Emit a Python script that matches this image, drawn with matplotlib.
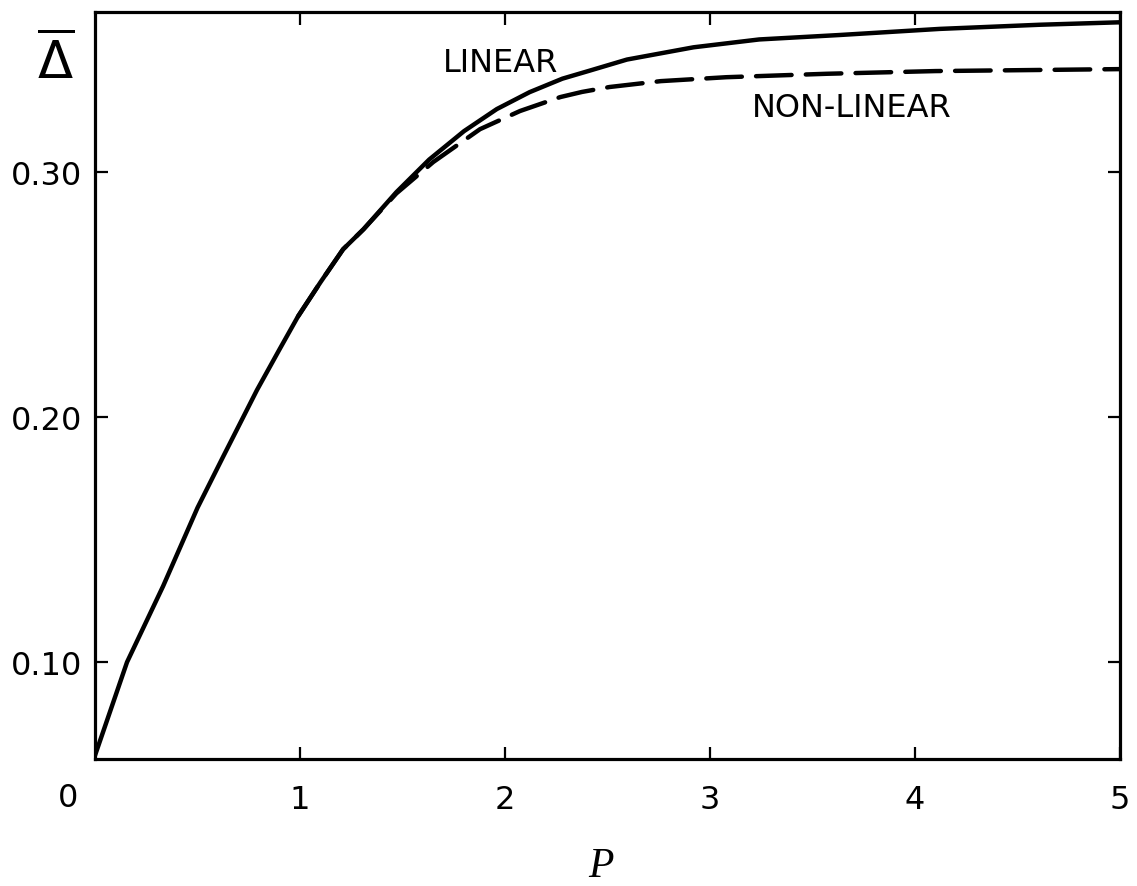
import matplotlib
matplotlib.use("Agg")
import matplotlib.pyplot as plt
import matplotlib.transforms as mtransforms

# mean gap vs. P, linear and non-linear theory
p_linear = [0.0, 0.156, 0.332, 0.50, 0.626, 0.79, 0.90, 0.99, 1.10, 1.21,
            1.31, 1.47, 1.63, 1.80, 1.96, 2.12, 2.28, 2.41, 2.595, 2.92,
            3.24, 3.63, 4.12, 4.61, 5.0]
d_linear = [0.062, 0.100, 0.131, 0.163, 0.184, 0.211, 0.2276, 0.241, 0.255,
            0.2684, 0.2766, 0.2917, 0.305, 0.3166, 0.3256, 0.3325, 0.338,
            0.3412, 0.3458, 0.3508, 0.354, 0.3558, 0.3583, 0.360, 0.361]

p_nonlin = [0.99, 1.10, 1.21, 1.31, 1.47, 1.65, 1.878, 2.073, 2.27, 2.376,
            2.51, 2.76, 3.08, 3.57, 4.10, 5.0]
d_nonlin = [0.241, 0.255, 0.2684, 0.2766, 0.2912, 0.3040, 0.3174, 0.3248,
            0.3305, 0.3326, 0.3346, 0.337, 0.3386, 0.340, 0.3411, 0.3419]

x_ticks = [1, 2, 3, 4, 5]
x_ticklabels = ["1", "2", "3", "4", "5"]
y_ticks = [0.10, 0.20, 0.30]
y_ticklabels = ["0.10", "0.20", "0.30"]

INK = "#000000"
FONT = "DejaVu Sans"

fig = plt.figure(figsize=(11.37, 8.87), dpi=100)
fig.patch.set_facecolor("white")
ax = fig.add_axes([0.0836, 0.1432, 0.9014, 0.8416])

ax.plot(p_linear, d_linear, color=INK, lw=3.2, solid_capstyle="round",
        solid_joinstyle="round")
ax.plot(p_nonlin, d_nonlin, color=INK, lw=3.2, dashes=(8, 3.2),
        dash_capstyle="round")

ax.set_xlim(0, 5)
ax.set_ylim(0.0605, 0.365)

ax.set_xticks(x_ticks)
ax.set_xticklabels(x_ticklabels, fontsize=23, family=FONT)
ax.set_yticks(y_ticks)
ax.set_yticklabels(y_ticklabels, fontsize=23, family=FONT)
ax.tick_params(axis="both", direction="in", length=9, width=1.6,
               top=True, right=True, color=INK)
ax.tick_params(axis="x", pad=18)
ax.tick_params(axis="y", pad=9)
for s in ax.spines.values():
    s.set_linewidth(2.3)
    s.set_color(INK)

# the origin label sits out at the corner
ax.text(0, 0, "0", transform=ax.transAxes + mtransforms.ScaledTranslation(
        -27 / 100, -39 / 100, fig.dpi_scale_trans),
        ha="center", va="center", fontsize=23, family=FONT)

ax.text(1.98, 0.3448, "LINEAR", ha="center", va="center",
        fontsize=23, family=FONT)
ax.text(3.69, 0.3264, "NON-LINEAR", ha="center", va="center",
        fontsize=23, family=FONT)

ax.text(-0.039, 0.935, r"$\overline{\mathrm{\Delta}}$", transform=ax.transAxes,
        ha="center", va="center", fontsize=37)
ax.text(0.494, -0.143, "P", transform=ax.transAxes, ha="center", va="center",
        fontsize=30, family="Liberation Serif", style="italic")

fig.savefig("out.png", dpi=100, facecolor="white")
